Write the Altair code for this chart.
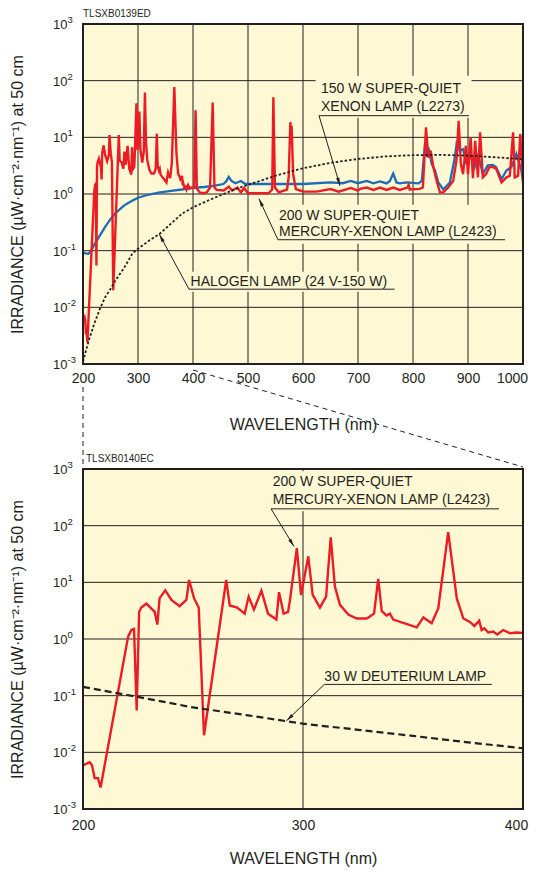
import altair as alt
import pandas as pd

FONT = "Liberation Sans"
INK = "#231F20"
BG = "#FFF8D4"
RED = "#EC1C24"
BLUE = "#1B6DB6"

# ---------------- data ----------------
# 200 W super-quiet mercury-xenon lamp (L2423)
hgxe_nm = [200, 203, 204.1, 205.3, 206.8, 208, 220.5, 222, 223.2, 224.4, 225.5, 226.5,
           228.8, 232.6, 233.8, 234.8, 237.4, 240.2, 243.9, 247, 248.2, 250.5, 252.6, 255,
           265.1, 266.7, 270.1, 273.5, 275.3, 277.7, 281.1, 284.1, 287.9, 289.1, 291.2,
           293.2, 294, 297.2, 299.1, 302.4, 304.4, 307.7, 310.5, 312.6, 314.5, 316.8,
           320.6, 324.4, 329, 332.3, 334.2, 335.8, 338, 339.5, 341, 351.7, 354.7, 358.5,
           361.5, 366, 369.9, 372.9, 375.9, 377.9, 380.1, 381.2, 382.4, 384.2, 386.5,
           388.3, 391, 394.1, 397, 400,
           402, 404.7, 407, 412, 418, 425, 431, 435.8, 439, 443, 456, 465, 471, 481, 487,
           493, 500, 537, 544, 546.1, 549, 556, 571, 574, 577, 578.3, 579.3, 582, 587,
           600, 625, 650, 665, 687, 700, 704, 716, 728, 740, 752, 764, 776, 790, 792, 794,
           812, 818, 823.6, 827.9, 832, 837, 843, 849, 855, 864, 873, 879, 883, 887, 891,
           896, 900, 904.8, 909, 913, 918, 922, 927, 933, 939, 945, 951, 961, 970, 976,
           982, 985, 991, 995, 1000]
hgxe_val = [0.0059, 0.0067, 0.0059, 0.0035, 0.0035, 0.0024, 1.1, 1.44, 1.5, 0.055, 3.0, 3.6,
            4.2, 3.0, 1.8, 5.2, 7.2, 4.9, 3.8, 4.9, 11, 5.2, 3.6, 0.02,
            11, 3.9, 3.6, 2.8, 5.6, 3.3, 7.1, 2.8, 2.2, 6.7, 2.8,
            3.0, 4.6, 40, 6.0, 28.6, 6.0, 3.6, 5.6, 62, 8.4, 4.0,
            2.7, 2.3, 2.3, 2.8, 11.5, 3.1, 2.6, 2.8, 2.2, 1.6, 2.4, 1.9,
            3.5, 77, 5.2, 2.3, 2.0, 1.7, 2.1, 1.44, 1.54, 1.3, 1.35,
            1.2, 1.44, 1.26, 1.3, 1.28,
            1.3, 30, 1.25, 1.07, 1.03, 1.07, 1.3, 41, 1.3, 1.18, 1.15, 1.35, 1.15, 1.3, 1.07,
            1.28, 1.03, 1.03, 1.2, 51, 1.3, 1.07, 1.2, 2.0, 18.5, 12, 16, 2.25, 1.22,
            1.11, 1.1, 1.22, 1.1, 1.28, 1.15, 1.23, 1.3, 1.18, 1.3, 1.18, 1.3, 1.18, 1.3, 1.45, 1.2,
            1.23, 1.3, 15, 4.4, 5.8, 3.0, 1.7, 1.07, 1.07, 1.3, 1.7, 3.9, 19.6, 3.4, 2.25,
            7.1, 2.25, 10, 1.9, 8.7, 1.97, 12.3, 1.97, 2.25, 3.0, 3.0, 2.8, 1.6, 1.97, 2.1,
            12.3, 1.97, 2.1, 11.4, 1.6]

# 150 W super-quiet xenon lamp (L2273)
xe_nm = [200, 205, 210, 215, 220, 230, 240, 250, 260, 275, 290, 300, 320, 340, 360, 380,
         400, 420, 440, 455, 460, 465, 470, 477, 487, 495, 540, 600, 650, 672, 687, 700,
         716, 728, 740, 752, 758, 764, 770, 776, 788, 810, 816, 821.8, 826, 828, 834, 840,
         846, 855, 867, 876, 880, 885, 891, 897, 903, 912, 918, 927, 936, 945, 951, 961,
         970, 979, 988, 997, 1000]
xe_val = [0.092, 0.09, 0.088, 0.1, 0.125, 0.18, 0.26, 0.36, 0.47, 0.63, 0.77, 0.86, 0.98,
          1.07, 1.14, 1.2, 1.28, 1.33, 1.4, 1.5, 1.65, 2.0, 1.7, 1.55, 1.7, 1.5, 1.5, 1.5,
          1.6, 1.55, 1.7, 1.55, 1.7, 1.54, 1.67, 1.54, 1.7, 2.3, 1.6, 1.54, 1.6, 1.54, 1.7,
          7.6, 4.5, 6.6, 3.4, 2.6, 1.6, 1.2, 1.6, 4.4, 8.7, 5.8, 6.2, 3.4, 5.4, 3.0, 5.1,
          2.25, 3.2, 3.25, 3.0, 1.84, 2.6, 3.0, 5.1, 2.6, 1.7]

# Halogen lamp (24 V-150 W)
hal_nm = [200, 210, 220, 230, 240, 250, 260, 275, 290, 300, 320, 340, 360, 380, 400, 425,
          450, 475, 500, 550, 600, 650, 700, 750, 800, 850, 900, 950, 1000]
hal_val = [0.0011, 0.0025, 0.005, 0.009, 0.015, 0.021, 0.031, 0.05, 0.09, 0.108, 0.15,
           0.2, 0.3, 0.45, 0.58, 0.75, 0.95, 1.2, 1.45, 2.1, 2.85, 3.55, 4.15, 4.6, 4.85, 4.9,
           4.75, 4.45, 4.1]

# 30 W deuterium lamp
d2_nm = [200, 225, 250, 275, 300, 325, 350, 375, 400]
d2_val = [0.143, 0.095, 0.062, 0.045, 0.032, 0.025, 0.0195, 0.015, 0.0118]

x_ticks_top = [200, 300, 400, 500, 600, 700, 800, 900, 1000]
x_ticks_bottom = [200, 300, 400]
y_ticks = [0.001, 0.01, 0.1, 1, 10, 100, 1000]
y_exps = ["-3", "-2", "-1", "0", "1", "2", "3"]

# annotations (data coordinates)
top_text = [("150 W SUPER-QUIET", 632.7, 70.7), ("XENON LAMP (L2273)", 632.7, 33.8),
            ("200 W SUPER-QUIET", 556.4, 0.414), ("MERCURY-XENON LAMP (L2423)", 556.4, 0.21),
            ("HALOGEN LAMP (24 V-150 W)", 395.5, 0.0275)]
top_segs = [(629.1, 24.1, 901.8, 24.1), (629.1, 24.1, 667.3, 1.40),
            (554.5, 0.156, 967.3, 0.156), (554.5, 0.156, 520.0, 0.826),
            (392.7, 0.0209, 766.4, 0.0209), (392.7, 0.0209, 338.7, 0.195)]
top_arrows = [(667.3, 1.40, 163.3), (520.0, 0.826, 335.1), (338.7, 0.195, 331.6)]
top_masks = [(623, 906.4, 22.1, 122), (547, 973, 0.133, 0.647), (387, 771, 0.0189, 0.0425)]

bot_text = [("200 W SUPER-QUIET", 286.2, 596), ("MERCURY-XENON LAMP (L2423)", 286.2, 280.5),
            ("30 W DEUTERIUM LAMP", 309.7, 0.215)]
bot_segs = [(285.5, 198, 389.1, 198), (285.5, 198, 295.9, 43),
            (309.7, 0.158, 385.8, 0.158), (309.7, 0.158, 292.5, 0.0361)]
bot_arrows = [(295.9, 43, 148.5), (292.5, 0.0361, 226.4)]
bot_masks = [(284, 390.5, 179, 915)]

# ---------------- chart ----------------
W, H = 440, 340
YTITLE = "IRRADIANCE (\u00b5W\u00b7cm\u207b\u00b2\u00b7nm\u207b\u00b9) at 50 cm"
ARROW = "M0,0L0.5,2.3L-0.5,2.3Z"


def build(xmin, xmax, xticks, red_df, extra_lines, texts, segs, arrows, masks, code,
          code_dx, label_pad, xtitle_pad, last_shift):
    xs = alt.Scale(domain=[xmin, xmax], nice=False, zero=False)
    ys = alt.Scale(type="log", domain=[0.001, 1000], nice=False)
    xaxis = alt.Axis(values=xticks, grid=False, domain=False, ticks=False, labelFont=FONT,
                     labelFontSize=14, labelColor=INK, labelPadding=label_pad,
                     labelFlush=False, labelOverlap=False, format="d",
                     labelOffset={"condition": {"test": "datum.value == %d" % xmax,
                                                "value": last_shift}, "value": 0},
                     title="WAVELENGTH (nm)", titleFont=FONT, titleFontSize=16,
                     titleFontWeight="normal", titleColor=INK, titlePadding=xtitle_pad)
    yaxis = alt.Axis(values=y_ticks, grid=False, domain=False, ticks=False, labels=False,
                     title=YTITLE, titleFont=FONT, titleFontSize=16,
                     titleFontWeight="normal", titleColor=INK, titlePadding=58)

    def X(f="x"):
        return alt.X(f + ":Q", scale=xs, axis=xaxis)

    def Y(f="y"):
        return alt.Y(f + ":Q", scale=ys, axis=yaxis)

    one = pd.DataFrame({"k": [0]})
    layers = []
    # plot background
    layers.append(alt.Chart(one).mark_rect(fill=BG, opacity=1).encode(
        x=alt.value(0), x2=alt.value(W), y=alt.value(0), y2=alt.value(H)))
    # grid lines at the tick values
    gx = pd.DataFrame({"x": xticks})
    gy = pd.DataFrame({"y": y_ticks})
    layers.append(alt.Chart(gx).mark_rule(color=INK, strokeWidth=1).encode(x=X()))
    layers.append(alt.Chart(gy).mark_rule(color=INK, strokeWidth=1).encode(y=Y()))
    # masks behind the annotation texts
    mask_df = pd.DataFrame(masks, columns=["x", "x2", "y", "y2"])
    layers.append(alt.Chart(mask_df).mark_rect(fill=BG, opacity=1).encode(
        x=X(), x2="x2:Q", y=Y(), y2="y2:Q"))

    line_layers = []
    for df, color, width, dash in extra_lines:
        kw = dict(color=color, strokeWidth=width, clip=True)
        if dash:
            kw["strokeDash"] = dash
        line_layers.append(alt.Chart(df).mark_line(**kw).encode(x=X(), y=Y(), order="x:Q"))
    red_layer = alt.Chart(red_df).mark_line(color=RED, strokeWidth=2.4, clip=True).encode(
        x=X(), y=Y(), order="x:Q")
    if len(line_layers) > 1:
        layers += [line_layers[0], red_layer] + line_layers[1:]
    else:
        layers += [red_layer] + line_layers

    seg_df = pd.DataFrame(segs, columns=["x", "y", "x2", "y2"])
    layers.append(alt.Chart(seg_df).mark_rule(color=INK, strokeWidth=1).encode(
        x=X(), y=Y(), x2="x2:Q", y2="y2:Q"))
    arr_df = pd.DataFrame(arrows, columns=["x", "y", "angle"])
    layers.append(alt.Chart(arr_df).mark_point(shape=ARROW, filled=True, fill=INK,
                                               size=49, opacity=1).encode(
        x=X(), y=Y(), angle=alt.Angle("angle:Q", scale=None)))
    txt_df = pd.DataFrame(texts, columns=["label", "x", "y"])
    layers.append(alt.Chart(txt_df).mark_text(align="left", baseline="middle", font=FONT,
                                              fontSize=14, color=INK).encode(
        x=X(), y=Y(), text="label:N"))

    # y tick labels as 10 with superscript exponent
    ylab = pd.DataFrame({"y": y_ticks, "base": ["10"] * len(y_ticks), "exp": y_exps})
    layers.append(alt.Chart(ylab).mark_text(align="left", baseline="middle", font=FONT,
                                            fontSize=13, color=INK, dy=1).encode(
        x=alt.value(-30), y=Y(), text="base:N"))
    layers.append(alt.Chart(ylab).mark_text(align="left", baseline="middle", font=FONT,
                                            fontSize=9.5, color=INK, dy=-4).encode(
        x=alt.value(-15.5), y=Y(), text="exp:N"))

    code_df = pd.DataFrame({"t": [code]})
    layers.append(alt.Chart(code_df).mark_text(align="left", baseline="middle", font=FONT,
                                               fontSize=10, color=INK).encode(
        x=alt.value(code_dx), y=alt.value(-10), text="t:N"))
    # plot frame
    layers.append(alt.Chart(one).mark_rect(fillOpacity=0, stroke=INK, strokeWidth=2).encode(
        x=alt.value(0), x2=alt.value(W), y=alt.value(0), y2=alt.value(H)))
    return layers


red_top = pd.DataFrame({"x": hgxe_nm, "y": hgxe_val})
red_bot = red_top[red_top["x"] <= 400]
xe_df = pd.DataFrame({"x": xe_nm, "y": xe_val})
hal_df = pd.DataFrame({"x": hal_nm, "y": hal_val})
d2_df = pd.DataFrame({"x": d2_nm, "y": d2_val})

top_layers = build(200, 1000, x_ticks_top, red_top,
                   [(xe_df, BLUE, 2.3, None), (hal_df, INK, 1.8, [2.5, 2])],
                   top_text, top_segs, top_arrows, top_masks, "TLSXB0139ED", 0, 7.5, 31, -11)

# dashed connectors from the 200-400 nm range of the top panel to the lower panel
conn_v = pd.DataFrame({"x": [200]})
conn_d = pd.DataFrame({"x": [400], "x2": [1000]})
xs_c = alt.Scale(domain=[200, 1000], nice=False, zero=False)
top_layers.append(alt.Chart(conn_v).mark_rule(color=INK, strokeWidth=1, strokeDash=[5, 4]).encode(
    x=alt.X("x:Q", scale=xs_c), y=alt.value(363), y2=alt.value(443)))
top_layers.append(alt.Chart(conn_d).mark_rule(color=INK, strokeWidth=1, strokeDash=[5, 4]).encode(
    x=alt.X("x:Q", scale=xs_c), x2="x2:Q", y=alt.value(346), y2=alt.value(443)))

bot_layers = build(200, 400, x_ticks_bottom, red_bot,
                   [(d2_df, INK, 2.2, [7, 4])],
                   bot_text, bot_segs, bot_arrows, bot_masks, "TLSXB0140EC", 3, 9, 18, -7)

top = alt.layer(*top_layers).properties(width=W, height=H)
bottom = alt.layer(*bot_layers).properties(width=W, height=H)

chart = alt.vconcat(top, bottom, spacing=105, bounds="flush").properties(
    padding={"left": 0, "top": 0, "right": 0, "bottom": 0}
).configure_view(strokeWidth=0).configure(background="white")

chart.save("out.html", embed_options={"renderer": "svg", "actions": False})
